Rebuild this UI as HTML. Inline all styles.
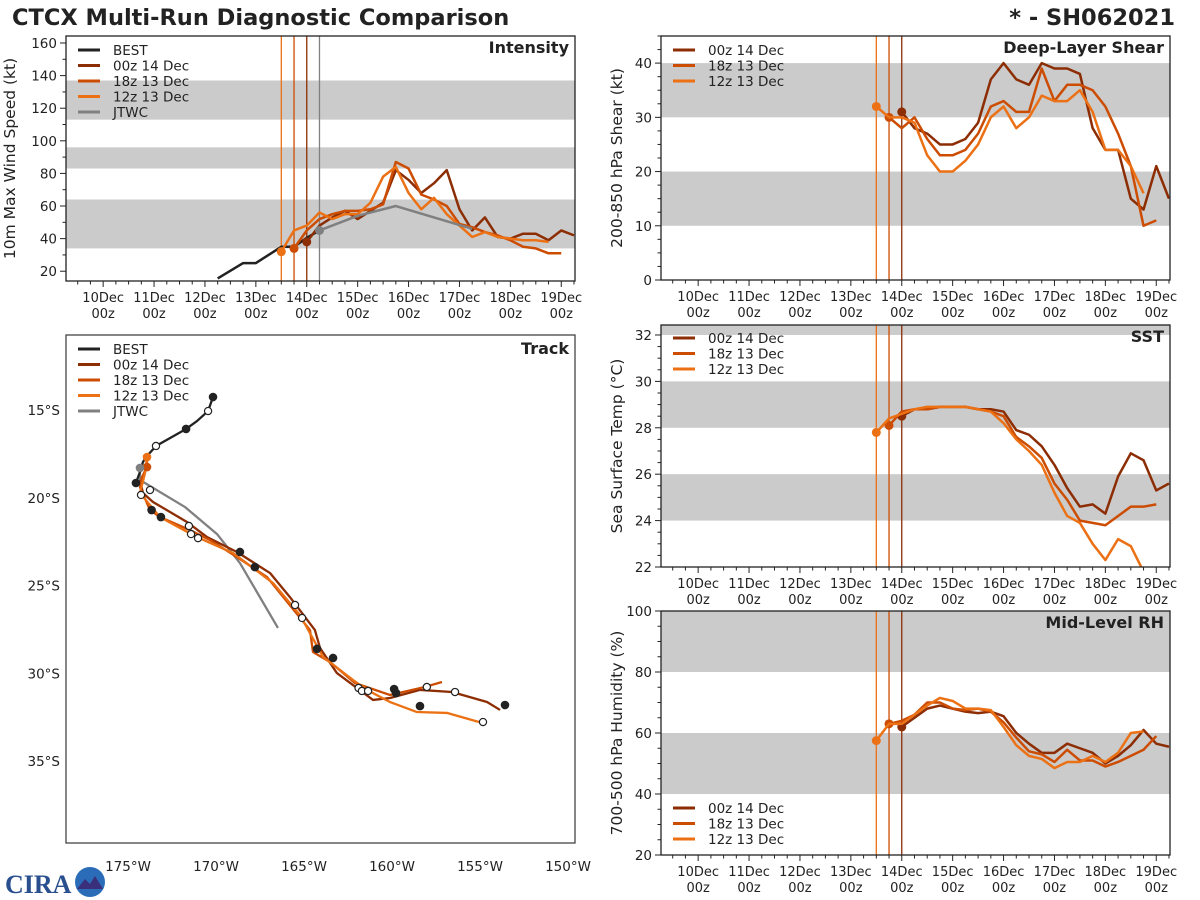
<!DOCTYPE html>
<html><head><meta charset="utf-8"><style>
body{margin:0;background:#fff;}
svg{display:block;font-family:"DejaVu Sans","Liberation Sans",sans-serif;}
</style></head><body>
<svg id="c" width="1200" height="900" viewBox="0 0 1200 900" xmlns="http://www.w3.org/2000/svg">
<text x="12" y="25" font-size="22.5" font-weight="bold" fill="#222">CTCX Multi-Run Diagnostic Comparison</text>
<text x="1175" y="25" font-size="22.5" font-weight="bold" fill="#222" text-anchor="end">* - SH062021</text>
<g>
<text x="5" y="893" font-size="26" font-weight="bold" fill="#2a4f8f" font-family="Liberation Serif,serif">CIRA</text>
<circle cx="90" cy="882" r="15" fill="#2b6cb8"/>
<path d="M77 889 L85 879 L90 884 L95 876 L103 889 Z" fill="#3a2f7a"/>
</g>
</svg>
<script>
// ---------- data ----------
const dayTicks = ["10Dec","11Dec","12Dec","13Dec","14Dec","15Dec","16Dec","17Dec","18Dec","19Dec"];
const runNames = ["00z 14 Dec","18z 13 Dec","12z 13 Dec"];
const runStart = [14.0, 13.75, 13.5];
const bestTimes = [12.25,12.75,13.0,13.5,13.75,14.0,14.25];
const bestVmax = [15.6,25,25,35,35,40.5,45];
const jtwcTimes = [14.25,14.75,15.0,15.75,17.25];
const jtwcVmax = [45,51,54,60,46];
const vmax00 = [38,48,53,57,52,57,62,82,76,68,74,82,58,45,53,41,40,43,43,39,45,42];
const vmax18 = [34,45,52,55,57,57,58,61,87,83,67,64,60,49,47,44,42,39,35,34,31,31];
const vmax12 = [32,45,48,56,52,55,55,62,78,84,68,58,65,55,48,41,44,41,40,39,39,38];
const shear00 = [31,28,27,25,25,26,29,37,40,37,36,40,39,39,38,28,24,24,15,13,21,15];
const shear18 = [30,28,30,26,23,23,24,27,32,33,31,31,39,33,36,36,35,32,27,21,10,11];
const shear12 = [32,30,30,29,23,20,20,22,25,30,32,28,30,34,33,33,35,31,24,24,21,16];
const sst00 = [28.5,28.8,28.8,28.9,28.9,28.9,28.8,28.8,28.7,27.9,27.7,27.2,26.4,25.4,24.6,24.7,24.3,25.9,26.9,26.6,25.3,25.6];
const sst18 = [28.1,28.7,28.8,28.8,28.9,28.9,28.9,28.8,28.7,28.5,27.6,27.2,26.7,25.6,24.9,24.0,23.9,23.8,24.2,24.6,24.6,24.7];
const sst12 = [27.8,28.4,28.6,28.8,28.9,28.9,28.9,28.9,28.8,28.7,28.2,27.5,27.0,26.4,25.2,24.2,23.9,23.0,22.3,23.2,22.9,21.8];
const rh00 = [62,65,68,69,68,67,66.5,67,65.5,60,56.5,53.5,53.5,56.5,55,53.5,50,52.5,56,61,56.5,55.5];
const rh18 = [63,64,66,70,70,68,67.5,68,67,63.5,58.5,54,53,50.5,54.5,51,51,49,50.5,52.5,54.5,59];
const rh12 = [57.5,63,63,66,69,71.5,70.5,68,68,67.5,62,56,52.5,51.5,48.5,50.5,50.5,52.5,50.5,53.5,60,60.5];
const bestLon = [-170.17,-170.45,-171.08,-171.70,-173.41,-173.92,-174.15,-174.32,-174.55];
const bestLat = [-14.26,-15.06,-15.63,-16.08,-17.05,-17.62,-17.96,-18.53,-19.16];
const trk00Lon = [-174.32,-174.15,-173.58,-171.65,-170.51,-168.81,-166.93,-165.80,-164.38,-164.09,-163.13,-161.08,-160.11,-158.41,-156.59,-154.60,-153.86];
const trk00Lat = [-18.99,-19.73,-20.24,-21.38,-22.24,-23.09,-24.29,-25.66,-27.54,-28.56,-29.99,-31.52,-31.41,-30.95,-31.07,-31.64,-32.09];
const trk18Lon = [-173.92,-173.92,-174.20,-174.32,-173.75,-173.18,-171.48,-170.34,-168.81,-167.10,-164.66,-164.49,-163.52,-162.10,-160.11,-158.13,-157.16];
const trk18Lat = [-17.68,-18.25,-18.82,-19.39,-20.70,-21.10,-21.84,-22.41,-23.38,-24.52,-27.54,-28.79,-29.36,-30.56,-31.24,-30.78,-30.50];
const trk12Lon = [-173.92,-174.03,-174.32,-173.18,-172.05,-171.08,-169.03,-167.90,-166.76,-165.23,-163.92,-162.22,-161.42,-160.11,-158.58,-156.88,-155.06];
const trk12Lat = [-17.68,-18.59,-19.73,-21.10,-21.72,-22.24,-23.15,-24.00,-24.86,-26.68,-29.07,-30.38,-30.95,-31.64,-32.21,-32.26,-32.78];
const jtwcLon = [-174.32,-174.32,-171.76,-169.94,-168.64,-166.48];
const jtwcLat = [-18.30,-18.99,-20.53,-22.07,-23.72,-27.42];
const filledLon = [-170.17,-171.70,-174.55,-173.66,-173.13,-168.64,-167.79,-164.26,-163.35,-159.88,-159.77,-158.41,-153.58];
const filledLat = [-14.26,-16.08,-19.16,-20.70,-21.10,-23.09,-23.95,-28.61,-29.13,-30.90,-31.13,-31.87,-31.81];
const openLon = [-170.45,-173.41,-174.26,-173.75,-171.54,-171.42,-171.02,-165.51,-165.11,-161.90,-161.71,-161.36,-158.02,-156.42,-154.83];
const openLat = [-15.06,-17.05,-19.84,-19.56,-21.61,-22.07,-22.30,-26.11,-26.85,-30.84,-31.01,-31.01,-30.78,-31.07,-32.78];

// ---------- helpers ----------
const NS='http://www.w3.org/2000/svg';
const svg=document.getElementById('c');
const COL=['#8c2d04','#cc4c02','#ec7014'];
const BAND='#cbcbcb';
function mk(tag,attrs,parent){const e=document.createElementNS(NS,tag);for(const k in attrs)e.setAttribute(k,attrs[k]);(parent||svg).appendChild(e);return e;}
function txt(x,y,s,attrs,parent){const e=mk('text',Object.assign({x:x,y:y,'font-size':13,fill:'#222'},attrs||{}),parent);e.textContent=s;return e;}

function timePanel(o){
  const g=mk('g',{});
  
  
  const L=o.x0,R=o.x1,T=o.y0,B=o.y1;
  const dayPx=(R-L)/10;
  const X=t=>L+(t-9.27)*dayPx;
  const Y=v=>B-(v-o.ymin)/(o.ymax-o.ymin)*(B-T);
  const clipId='clip-'+o.name;
  const cp=mk('clipPath',{id:clipId},g);mk('rect',{x:L,y:T,width:R-L,height:B-T},cp);
  for(const b of o.bands){
    const r=mk('rect',{x:L,y:Y(Math.min(b[1],o.ymax)),width:R-L,height:Y(b[0])-Y(Math.min(b[1],o.ymax)),fill:BAND},g);
    
    
  }
  const vl=o.vlines;
  for(let i=0;i<vl.length;i++){
    const ln=mk('line',{x1:X(vl[i][0]),x2:X(vl[i][0]),y1:T,y2:B,stroke:vl[i][1],'stroke-width':1.3},g);
    
    
  }
  const pg=mk('g',{'clip-path':'url(#'+clipId+')'},g);
  for(const s of o.series){
    const pts=s.v.map((v,i)=>[X(s.t?s.t[i]:s.start+0.25*i),Y(v)]);
    const pl=mk('polyline',{points:pts.map(p=>p.join(',')).join(' '),fill:'none',stroke:s.c,'stroke-width':2.5,'stroke-linejoin':'round'},pg);
    
    
    if(s.dot){const d=mk('circle',{cx:pts[0][0],cy:pts[0][1],r:4.5,fill:s.c},pg);
      
      }
  }
  mk('rect',{x:L,y:T,width:R-L,height:B-T,fill:'none',stroke:'#222','stroke-width':1.3},g);
  for(let q=0;q<=44;q++){const t=9.0+q*0.25;const x=X(t);if(x<L||x>R)continue;
    const major=Math.abs(t-Math.round(t))<1e-6;
    mk('line',{x1:x,x2:x,y1:B,y2:B+(major?6:3.5),stroke:'#222','stroke-width':1},g);}
  dayTicks.forEach((d,i)=>{const x=X(10+i);
    const a=txt(x,B+21,d,{'text-anchor':'middle'},g);
    const b=txt(x,B+37,'00z',{'text-anchor':'middle'},g);});
  // y ticks
  const n0=Math.ceil((o.ymin-o.maj0)/o.minor-1e-6);
  const n1=Math.floor((o.ymax-o.maj0)/o.minor+1e-6);
  const per=Math.round(o.major/o.minor);
  for(let n=n0;n<=n1;n++){
    const v=o.maj0+n*o.minor;
    const isMaj=(n%per===0)&&n>=0;
    mk('line',{x1:L,x2:L-(isMaj?6:3.5),y1:Y(v),y2:Y(v),stroke:'#222','stroke-width':1},g);
    if(isMaj){const t=txt(L-9,Y(v)+5,String(Math.round(v)),{'text-anchor':'end','font-size':13.5},g);
      }
  }
  const yl=txt(0,0,o.ylabel,{'text-anchor':'middle','font-size':15.5,transform:'translate('+o.ylx+','+((T+B)/2)+') rotate(-90)'},g);
  
  const tt=txt(R-6,T+17,o.title,{'text-anchor':'end','font-size':16,'font-weight':'bold'},g);
  
  legend(g,o.leg,o.legX,o.legY);
}
function legend(g,items,x,y){
  const lg=mk('g',{},g);
  
  
  items.forEach((it,i)=>{const yy=y+i*15.5;
    mk('line',{x1:x,x2:x+22,y1:yy,y2:yy,stroke:it[1],'stroke-width':3},lg);
    const t=txt(x+35,yy+5,it[0],{'font-size':13.5},lg);
    });
}
const runLeg=[[runNames[0],COL[0]],[runNames[1],COL[1]],[runNames[2],COL[2]]];
const vlinesRun=[[13.5,COL[2]],[13.75,COL[1]],[14.0,COL[0]]];
function runSeries(a,b,c,pref){return [
  {n:pref+'-00z14',v:a,start:runStart[0],c:COL[0],dot:true},
  {n:pref+'-18z13',v:b,start:runStart[1],c:COL[1],dot:true},
  {n:pref+'-12z13',v:c,start:runStart[2],c:COL[2],dot:true}];}

timePanel({name:'intensity',x0:66,x1:575,y0:36,y1:281,ymin:14,ymax:164.3,maj0:20,major:20,minor:10,
  bands:[[34,64],[83,96],[113,137]],vlines:vlinesRun.concat([[14.25,'#808080']]),
  series:[{n:'best-intensity',v:bestVmax,t:bestTimes,c:'#222'}].concat(runSeries(vmax00,vmax18,vmax12,'intensity')).concat([{n:'jtwc-intensity',v:jtwcVmax,t:jtwcTimes,c:'#808080',dot:true}]),
  ylabel:'10m Max Wind Speed (kt)',ylx:15,title:'Intensity',
  leg:[['BEST','#222']].concat(runLeg).concat([['JTWC','#808080']]),legX:78,legY:50});
timePanel({name:'shear',x0:661,x1:1170,y0:36,y1:280,ymin:0,ymax:45,maj0:0,major:10,minor:2.5,
  bands:[[10,20],[30,40]],vlines:vlinesRun,series:runSeries(shear00,shear18,shear12,'shear'),
  ylabel:'200-850 hPa Shear (kt)',ylx:622,title:'Deep-Layer Shear',leg:runLeg,legX:673,legY:50});
timePanel({name:'sst',x0:661,x1:1170,y0:325,y1:567,ymin:22,ymax:32.43,maj0:22,major:2,minor:0.5,
  bands:[[24,26],[28,30],[32,33]],vlines:vlinesRun,series:runSeries(sst00,sst18,sst12,'sst'),
  ylabel:'Sea Surface Temp (°C)',ylx:622,title:'SST',leg:runLeg,legX:673,legY:338});
timePanel({name:'rh',x0:661,x1:1170,y0:611,y1:855,ymin:20,ymax:100,maj0:20,major:20,minor:5,
  bands:[[40,60],[80,100]],vlines:vlinesRun,series:runSeries(rh00,rh18,rh12,'rh'),
  ylabel:'700-500 hPa Humidity (%)',ylx:622,title:'Mid-Level RH',leg:runLeg,legX:673,legY:808});

// ---------- track ----------
(function(){
  const g=mk('g',{});
  
  
  const L=66,R=575,T=335,B=843;
  const LX=lon=>128+(lon+175)*17.6;
  const LY=lat=>410+(-15-lat)*17.55;
  const cp=mk('clipPath',{id:'clip-track'},g);mk('rect',{x:L,y:T,width:R-L,height:B-T},cp);
  const pg=mk('g',{'clip-path':'url(#clip-track)'},g);
  function path(lons,lats,c,n){
    const pl=mk('polyline',{points:lons.map((v,i)=>LX(v)+','+LY(lats[i])).join(' '),fill:'none',stroke:c,'stroke-width':2.3,'stroke-linejoin':'round'},pg);
    
    
  }
  path(jtwcLon,jtwcLat,'#808080','jtwc-track');
  path(trk00Lon,trk00Lat,COL[0],'track-00z14');
  path(trk18Lon,trk18Lat,COL[1],'track-18z13');
  path(trk12Lon,trk12Lat,COL[2],'track-12z13');
  path(bestLon,bestLat,'#222','best-track');
  filledLon.forEach((v,i)=>{const c=mk('circle',{cx:LX(v),cy:LY(filledLat[i]),r:4.3,fill:'#222'},pg);
    });
  openLon.forEach((v,i)=>{const c=mk('circle',{cx:LX(v),cy:LY(openLat[i]),r:3.6,fill:'#fff',stroke:'#222','stroke-width':1.2},pg);
    });
  [[trk12Lon[0],trk12Lat[0],COL[2]],[trk18Lon[1],trk18Lat[1],COL[1]],[jtwcLon[0],jtwcLat[0],'#808080']].forEach(p=>{
    const c=mk('circle',{cx:LX(p[0]),cy:LY(p[1]),r:4.3,fill:p[2]},pg);
    });
  mk('rect',{x:L,y:T,width:R-L,height:B-T,fill:'none',stroke:'#444','stroke-width':1.3},g);
  const lonT=[-175,-170,-165,-160,-155,-150],latT=[-15,-20,-25,-30,-35];
  lonT.forEach(v=>{const t=txt(LX(v),871,(-v)+'°W',{'text-anchor':'middle','font-size':13.5},g);
    });
  latT.forEach(v=>{const t=txt(60,LY(v)+5,(-v)+'°S',{'text-anchor':'end','font-size':13.5},g);
    });
  const tt=txt(R-6,T+19,'Track',{'text-anchor':'end','font-size':16,'font-weight':'bold'},g);
  
  legend(g,[['BEST','#222']].concat(runLeg).concat([['JTWC','#808080']]),78,349);
})();
</script>
</body></html>
